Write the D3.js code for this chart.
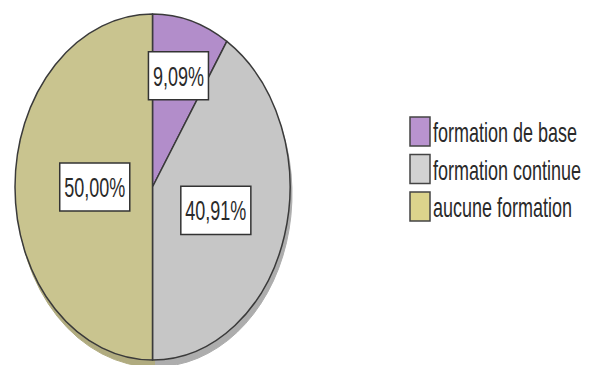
<!DOCTYPE html>
<html>
<head>
<meta charset="utf-8">
<script src="https://cdn.jsdelivr.net/npm/d3@7"></script>
<style>
  html, body { margin: 0; padding: 0; background: #fff; }
  svg { display: block; font-family: "Liberation Sans", Arial, sans-serif; }
</style>
</head>
<body>
<div id="chart"></div>
<script>
const width = 593;
const height = 365;

// data
const categories = ["formation de base", "formation continue", "aucune formation"];
const values = [9.09, 40.91, 50.00];

// styles / layout
const faceColors = ["#b28dca", "#c6c6c6", "#c9c48f"];
const sideColors = ["#9c7fb0", "#adadad", "#b0ab7f"];
const legendColors = ["#b993cf", "#d2d2d2", "#dcd48c"];
const labelRadius = [0.67, 0.48, 0.42];   // fraction of radius, per slice

const cx = 152.5, cy = 187;
const rx = 137.5, ry = 173;
const k = ry / rx;          // vertical stretch of the picture
const textStretch = 1.55;   // text looks stretched even more

const svg = d3.select("#chart")
    .append("svg")
    .attr("width", width)
    .attr("height", height);

const pie = d3.pie().sort(null).value(d => d);
const arcs = pie(values);

const arc = d3.arc().innerRadius(0).outerRadius(rx);

// depth / shadow under the pie
svg.append("g")
    .attr("transform", `translate(${cx + 2},${cy + 7}) scale(1,${k})`)
    .selectAll("path")
    .data(arcs)
    .enter()
    .append("path")
    .attr("d", arc)
    .attr("fill", (d, i) => sideColors[i])
    .attr("stroke", (d, i) => sideColors[i])
    .attr("stroke-width", 1)
    .attr("vector-effect", "non-scaling-stroke");

// top face
svg.append("g")
    .attr("transform", `translate(${cx},${cy}) scale(1,${k})`)
    .selectAll("path")
    .data(arcs)
    .enter()
    .append("path")
    .attr("d", arc)
    .attr("fill", (d, i) => faceColors[i])
    .attr("stroke", "#3a3a3a")
    .attr("stroke-width", 1.5)
    .attr("stroke-linejoin", "round")
    .attr("vector-effect", "non-scaling-stroke");

// percent labels
const fmt = v => d3.format(".2f")(v).replace(".", ",") + "%";

arcs.forEach((d, i) => {
    const r = rx * labelRadius[i];
    const [lx, ly] = d3.arc().innerRadius(r).outerRadius(r).centroid(d);
    const g = svg.append("g")
        .attr("transform", `translate(${cx + lx},${cy + ly * k}) scale(1,${textStretch})`);
    const rect = g.append("rect");
    const t = g.append("text")
        .attr("text-anchor", "middle")
        .attr("dy", "0.36em")
        .attr("font-size", 18)
        .attr("fill", "#2a2a2a")
        .text(fmt(d.data));
    const w = t.node().getComputedTextLength() + 9;
    const h = 31;
    rect.attr("x", -w / 2)
        .attr("y", -h / 2)
        .attr("width", w)
        .attr("height", h)
        .attr("fill", "#fff")
        .attr("stroke", "#333")
        .attr("stroke-width", 1.5)
        .attr("vector-effect", "non-scaling-stroke");
});

// legend
const legend = svg.append("g")
    .attr("transform", "translate(410,117)");

const rows = legend.selectAll("g")
    .data(categories)
    .enter()
    .append("g")
    .attr("transform", (d, i) => `translate(0,${i * 37.5})`);

rows.append("rect")
    .attr("width", 20)
    .attr("height", 29)
    .attr("fill", (d, i) => legendColors[i])
    .attr("stroke", "#444")
    .attr("stroke-width", 1.5);

rows.append("g")
    .attr("transform", `translate(23,15) scale(1,${textStretch})`)
    .append("text")
    .attr("dy", "0.36em")
    .attr("font-size", 18)
    .attr("fill", "#2a2a2a")
    .text(d => d);
</script>
</body>
</html>
